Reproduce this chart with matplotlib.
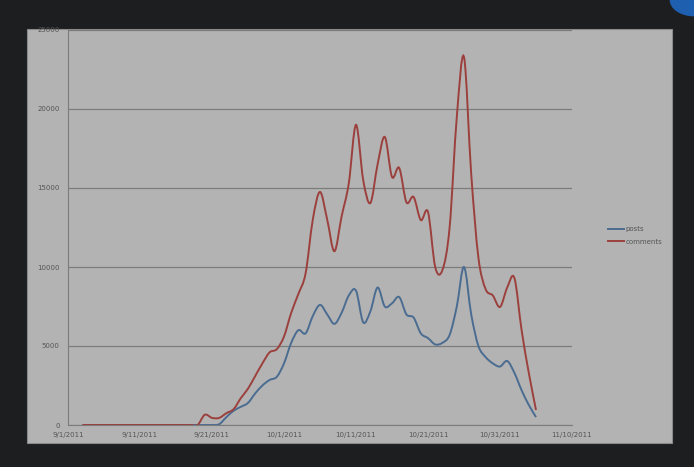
import numpy as np
import pandas as pd
import matplotlib
matplotlib.use('Agg')
import matplotlib.pyplot as plt
import matplotlib.dates as mdates
from matplotlib.path import Path
from matplotlib.patches import PathPatch, Rectangle, Circle

# daily counts, 9/3/2011 .. 11/5/2011
dates = pd.date_range('2011-09-03', '2011-11-05', freq='D')
posts = [0, 0, 0, 0, 0, 0, 0, 0, 0, 0, 0, 0, 0, 0, 0, 0, 0, 0, 0,
         50, 500, 900, 1150, 1400, 2000, 2500, 2850, 3050, 3900, 5200,
         6000, 5800, 6900, 7600, 7000, 6400, 7100, 8200, 8500, 6500,
         7200, 8700, 7500, 7700, 8100, 7000, 6800, 5800, 5500, 5100,
         5200, 5700, 7500, 10000, 7000, 5000, 4300, 3900, 3700, 4050,
         3300, 2200, 1270, 500]
comments = [0, 0, 0, 0, 0, 0, 0, 0, 0, 0, 0, 0, 0, 0, 0, 0, 0, 650,
            450, 450, 750, 1000, 1700, 2300, 3100, 3900, 4600, 4800,
            5600, 7100, 8300, 9600, 13000, 14750, 13000, 11000, 13200,
            15300, 19000, 15500, 14050, 16500, 18230, 15700, 16270, 14100,
            14430, 12970, 13480, 10000, 9800, 12500, 19500, 23290, 15900,
            10600, 8600, 8200, 7470, 8700, 9300, 6000, 3300, 950]
series_names = ['posts', 'comments']
series_colors = ['#4b6c91', '#9c403d']
tick_dates = pd.date_range('2011-09-01', '2011-11-10', freq='10D')


def smooth_path(x, y):
    # excel-like smoothed line: catmull-rom turned into cubic beziers
    pts = np.column_stack([x, y])
    n = len(pts)
    verts = [pts[0]]
    codes = [Path.MOVETO]
    for i in range(n - 1):
        p0 = pts[max(i - 1, 0)]
        p1 = pts[i]
        p2 = pts[i + 1]
        p3 = pts[min(i + 2, n - 1)]
        c1 = p1 + (p2 - p0) / 6.0
        c2 = p2 - (p3 - p1) / 6.0
        verts += [c1, c2, p2]
        codes += [Path.CURVE4] * 3
    return Path(verts, codes)


fig = plt.figure(figsize=(6.94, 4.67), dpi=100)
fig.patch.set_facecolor('#1d1e20')

# chart area (the gray panel on the screen)
panel = Rectangle((27 / 694, 1 - 443 / 467), 645 / 694, 414 / 467,
                  transform=fig.transFigure, facecolor='#b3b3b3',
                  edgecolor='#8a8a8a', lw=0.8, zorder=-5)
fig.patches.append(panel)
# blue blob in the top right corner of the photo
fig.patches.append(Circle((1.0, 1.0), 0.035, transform=fig.transFigure,
                          facecolor='#1f5fb0', edgecolor='none', zorder=-4))

ax = fig.add_axes([68 / 694, 42 / 467, 504 / 694, 395 / 467])
ax.set_facecolor('none')
ax.set_zorder(2)

xnum = mdates.date2num(dates)
for vals, name, col in zip([posts, comments], series_names, series_colors):
    path = smooth_path(xnum, np.array(vals, dtype=float))
    ax.add_patch(PathPatch(path, facecolor='none', edgecolor=col, lw=1.4,
                           zorder=3))
    ax.plot([], [], color=col, lw=1.4, label=name)

ax.set_xlim(mdates.date2num(tick_dates[0]), mdates.date2num(tick_dates[-1]))
ax.set_ylim(0, 25000)
ax.set_yticks(np.arange(0, 25001, 5000))
ax.set_yticklabels([str(v) for v in range(0, 25001, 5000)])
ax.set_xticks(mdates.date2num(tick_dates))
ax.set_xticklabels(['%d/%d/%d' % (d.month, d.day, d.year) for d in tick_dates])

ax.grid(axis='y', color='#7c7c7c', lw=0.9)
ax.set_axisbelow(True)
for s in ['top', 'right']:
    ax.spines[s].set_visible(False)
ax.spines['left'].set_color('#7c7c7c')
ax.spines['bottom'].set_color('#7c7c7c')
ax.tick_params(axis='both', length=0, labelsize=5, colors='#555555')
ax.tick_params(axis='y', pad=6)
ax.tick_params(axis='x', pad=5)

leg = ax.legend(loc='center left', bbox_to_anchor=(1.06, 0.48), frameon=False,
                fontsize=5, handlelength=2.2, handletextpad=0.3,
                labelspacing=0.9, labelcolor='#555555')

fig.savefig('out.png', dpi=100, facecolor=fig.get_facecolor())
